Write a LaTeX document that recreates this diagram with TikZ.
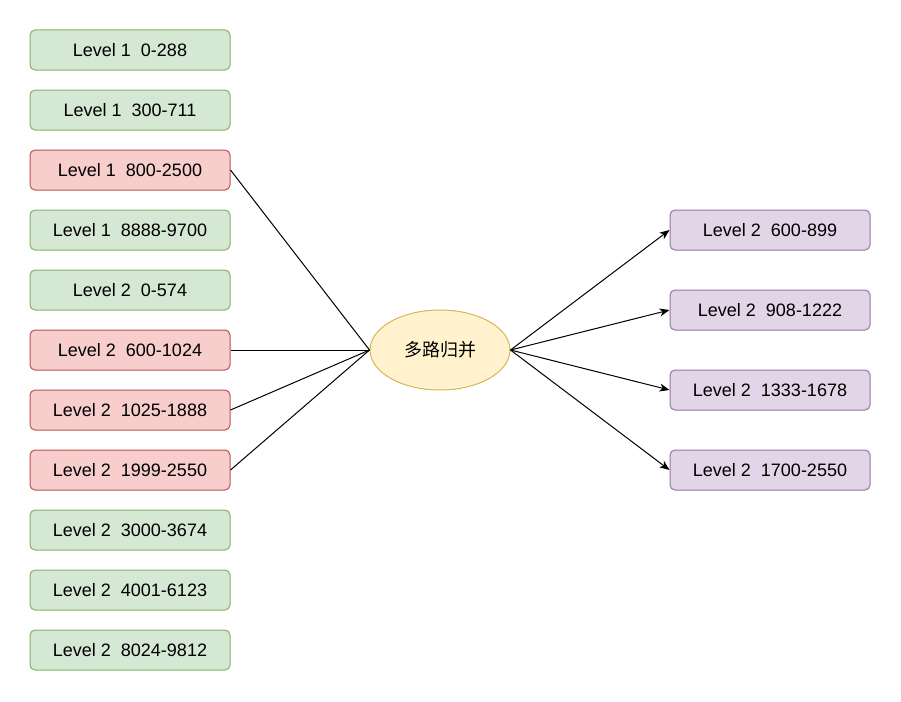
\documentclass[tikz,border=0pt]{standalone}
\usepackage{fontspec}
\setmainfont{Liberation Sans}
\newfontfamily\cjk{Noto Sans CJK SC}
\usepackage{tikz}
\usetikzlibrary{shapes.geometric}
\usetikzlibrary{arrows.meta}
\definecolor{gfill}{HTML}{D5E8D4}
\definecolor{gline}{HTML}{82B366}
\definecolor{rfill}{HTML}{F8CECC}
\definecolor{rline}{HTML}{B85450}
\definecolor{pfill}{HTML}{E1D5E7}
\definecolor{pline}{HTML}{9673A6}
\definecolor{yfill}{HTML}{FFF2CC}
\definecolor{yline}{HTML}{D6B656}
\begin{document}
\begin{tikzpicture}[x=1pt, y=-1pt, font=\fontsize{18}{21}\selectfont, line width=1pt,
	box/.style={rectangle, rounded corners=5pt, minimum width=200pt, minimum height=40pt, inner sep=0pt},
	gbox/.style={box, draw=gline, fill=gfill},
	rbox/.style={box, draw=rline, fill=rfill},
	pbox/.style={box, draw=pline, fill=pfill}]
	\useasboundingbox (0,0) rectangle (901,701);
	% Nodes
	\node[gbox] (1) at (130,50) {Level 1\ \ 0-288};
	\node[gbox] (2) at (130,110) {Level 1\ \ 300-711};
	\node[rbox] (3) at (130,170) {Level 1\ \ 800-2500};
	\node[gbox] (4) at (130,230) {Level 1\ \ 8888-9700};
	\node[gbox] (5) at (130,290) {Level 2\ \ 0-574};
	\node[rbox] (6) at (130,350) {Level 2\ \ 600-1024};
	\node[rbox] (7) at (130,410) {Level 2\ \ 1025-1888};
	\node[rbox] (8) at (130,470) {Level 2\ \ 1999-2550};
	\node[gbox] (9) at (130,530) {Level 2\ \ 3000-3674};
	\node[gbox] (10) at (130,590) {Level 2\ \ 4001-6123};
	\node[gbox] (11) at (130,650) {Level 2\ \ 8024-9812};
	
	\node[ellipse, draw=yline, fill=yfill, minimum width=140pt, minimum height=80pt, inner sep=0pt] (m) at (440,350) {\cjk 多路归并};
	
	\node[pbox] (12) at (770,230) {Level 2\ \ 600-899};
	\node[pbox] (13) at (770,310) {Level 2\ \ 908-1222};
	\node[pbox] (14) at (770,390) {Level 2\ \ 1333-1678};
	\node[pbox] (15) at (770,470) {Level 2\ \ 1700-2550};
	% Edges
	\draw (3.east) -- (m.west);
	\draw (6.east) -- (m.west);
	\draw (7.east) -- (m.west);
	\draw (8.east) -- (m.west);
	
	\draw[-{Stealth[length=10pt, width=8pt, inset=3pt]}] (m.east) -- (12.west);
	\draw[-{Stealth[length=10pt, width=8pt, inset=3pt]}] (m.east) -- (13.west);
	\draw[-{Stealth[length=10pt, width=8pt, inset=3pt]}] (m.east) -- (14.west);
	\draw[-{Stealth[length=10pt, width=8pt, inset=3pt]}] (m.east) -- (15.west);
\end{tikzpicture}
\end{document}
